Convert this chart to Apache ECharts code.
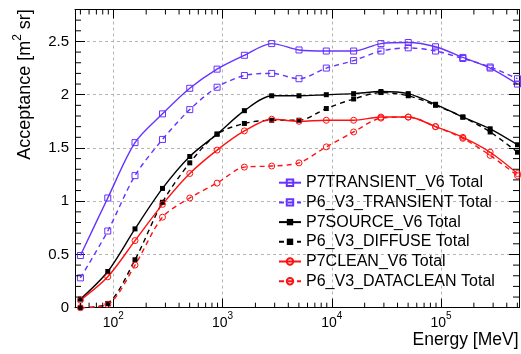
<!DOCTYPE html>
<html><head><meta charset="utf-8">
<script src="https://cdn.jsdelivr.net/npm/echarts@6/dist/echarts.min.js"></script>
<style>html,body{margin:0;padding:0;background:#fff}#c{width:521px;height:354px}</style>
</head><body><div id="c"></div>
<script>
// Energies in MeV (bin points)
const energies = [50, 89, 158, 282, 501, 891, 1585, 2818, 5012, 8913, 15849, 28184, 50119, 89125, 158489, 281838, 501187];
const p7Transient  = [0.49, 1.03, 1.55, 1.82, 2.06, 2.24, 2.37, 2.48, 2.42, 2.41, 2.41, 2.48, 2.49, 2.45, 2.35, 2.25, 2.10];
const p6Transient  = [0.28, 0.72, 1.24, 1.58, 1.86, 2.07, 2.18, 2.20, 2.15, 2.25, 2.32, 2.41, 2.44, 2.41, 2.34, 2.26, 2.15];
const p7Source     = [0.08, 0.34, 0.74, 1.12, 1.42, 1.63, 1.85, 1.99, 1.99, 2.00, 2.01, 2.03, 2.01, 1.91, 1.79, 1.68, 1.53];
const p6Diffuse    = [0.00, 0.04, 0.45, 0.99, 1.36, 1.63, 1.73, 1.76, 1.76, 1.87, 1.96, 2.02, 1.99, 1.90, 1.79, 1.65, 1.46];
const p7Clean      = [0.07, 0.29, 0.63, 0.97, 1.26, 1.48, 1.66, 1.77, 1.75, 1.76, 1.76, 1.79, 1.79, 1.70, 1.60, 1.46, 1.26];
const p6DataClean  = [0.00, 0.03, 0.40, 0.85, 1.03, 1.17, 1.32, 1.33, 1.36, 1.51, 1.65, 1.78, 1.79, 1.70, 1.59, 1.43, 1.24];
const seriesNames = ['P7TRANSIENT_V6 Total', 'P6_V3_TRANSIENT Total', 'P7SOURCE_V6 Total', 'P6_V3_DIFFUSE Total', 'P7CLEAN_V6 Total', 'P6_V3_DATACLEAN Total'];
const xTickExponents = [2, 3, 4, 5];
const yTickLabels = ['0', '0.5', '1', '1.5', '2', '2.5'];
const xTitle = 'Energy [MeV]';

const X_MIN = 44.6, X_MAX = 517600, Y_MIN = 0, Y_MAX = 2.8;
const BLUE = '#6633ff', RED = '#ff1111', BLACK = '#000000';
const FONT = 'Liberation Sans';

const xMinor = [];
for (let d = 1; d <= 5; d++) for (let m = 2; m <= 9; m++) { const v = m * Math.pow(10, d); if (v > X_MIN && v < X_MAX) xMinor.push(v); }
const yMinor = [];
for (let k = 1; k < 28; k++) { if (k % 5 !== 0) yMinor.push(k / 10); }

function mk(name, vals, color, dashed, symbol, size, filled) {
  return {
    name, type: 'line', data: energies.map((e, i) => [e, vals[i]]),
    smooth: 0.3, symbol, symbolSize: size, showSymbol: true,
    lineStyle: { color, width: 1.4, type: dashed ? [5, 4] : 'solid' },
    itemStyle: filled ? { color, borderColor: color, borderWidth: 0 } : { color: 'rgba(0,0,0,0)', borderColor: color, borderWidth: 1 },
    emphasis: { disabled: true }, z: 3
  };
}

const chart = echarts.init(document.getElementById('c'), null, { renderer: 'canvas' });
const axisLineStyle = { color: '#000', width: 1 };
const gridLine = { show: true, showMinLine: false, showMaxLine: false, lineStyle: { color: '#b4b4b4', type: [3, 3], width: 1 } };
chart.setOption({
  animation: false,
  backgroundColor: '#fff',
  grid: { left: 75, right: 2, top: 9.5, bottom: 46.3, containLabel: false, outerBoundsMode: 'none' },
  xAxis: [
    { type: 'log', logBase: 10, min: X_MIN, max: X_MAX, position: 'bottom',
      axisLine: { onZero: false, lineStyle: axisLineStyle },
      axisTick: { inside: true, length: 9, lineStyle: axisLineStyle },
      axisLabel: { margin: 4, color: '#000', fontFamily: FONT,
        formatter: v => { const l = Math.log10(v); const e = Math.round(l); if (Math.abs(l - e) > 1e-6 || xTickExponents.indexOf(e) < 0) return ''; return '{b|10}{s|' + e + '}'; },
        rich: { b: { fontSize: 14, fontFamily: FONT, color: '#000' }, s: { fontSize: 10, fontFamily: FONT, color: '#000', padding: [0, 0, 12, 0] } } },
      splitLine: gridLine },
    { type: 'log', logBase: 10, min: X_MIN, max: X_MAX, position: 'top',
      axisLine: { onZero: false, lineStyle: axisLineStyle },
      axisTick: { inside: true, length: 9, lineStyle: axisLineStyle },
      axisLabel: { show: false }, splitLine: { show: false } }
  ],
  yAxis: [
    { type: 'value', min: Y_MIN, max: Y_MAX, interval: 0.5, position: 'left',
      axisLine: { show: true, onZero: false, lineStyle: axisLineStyle },
      axisTick: { show: true, inside: true, length: 10, lineStyle: axisLineStyle },
      axisLabel: { margin: 6, color: '#000', fontSize: 15, fontFamily: FONT,
        formatter: v => { const k = Math.round(v / 0.5); if (Math.abs(v - k * 0.5) > 1e-6) return ''; return yTickLabels[k] || ''; } },
      splitLine: gridLine },
    { type: 'value', min: Y_MIN, max: Y_MAX, interval: 0.5, position: 'right',
      axisLine: { show: true, onZero: false, lineStyle: axisLineStyle },
      axisTick: { show: true, inside: true, length: 10, lineStyle: axisLineStyle },
      axisLabel: { show: false }, splitLine: { show: false } }
  ],
  legend: {
    data: seriesNames, orient: 'vertical', left: 278, top: 173.7, padding: 0,
    itemWidth: 22, itemHeight: 8, itemGap: 1.7,
    textStyle: { fontSize: 16, fontFamily: FONT, color: '#000', lineHeight: 18 },
    selectedMode: false
  },
  graphic: [
    { type: 'text', x: 25, y: 84.5, rotation: Math.PI / 2, silent: true,
      style: { text: '{a|Acceptance [m}{sup|2}{a| sr]}', align: 'center', verticalAlign: 'middle', fill: '#000',
        rich: { a: { fontSize: 18, fontFamily: FONT, fill: '#000' }, sup: { fontSize: 12, fontFamily: FONT, fill: '#000', padding: [0, 0, 14, 0] } } } },
    { type: 'text', x: 518.5, y: 340, silent: true,
      style: { text: xTitle, align: 'right', verticalAlign: 'middle', fontSize: 17.5, fontFamily: FONT, fill: '#000' } }
  ],
  series: [
    mk(seriesNames[0], p7Transient, BLUE, false, 'rect', 6, false),
    mk(seriesNames[1], p6Transient, BLUE, true, 'rect', 6, false),
    mk(seriesNames[2], p7Source, BLACK, false, 'rect', 5, true),
    mk(seriesNames[3], p6Diffuse, BLACK, true, 'rect', 5, true),
    mk(seriesNames[4], p7Clean, RED, false, 'circle', 6, false),
    mk(seriesNames[5], p6DataClean, RED, true, 'circle', 6, false),
    { type: 'custom', silent: true, data: xMinor.map(v => [v, 1]), clip: false, z: 4,
      renderItem: (params, api) => {
        const cs = params.coordSys; const x = api.coord([api.value(0), 1])[0];
        return { type: 'group', children: [
          { type: 'line', shape: { x1: x, y1: cs.y + cs.height, x2: x, y2: cs.y + cs.height - 5 }, style: { stroke: '#000', lineWidth: 1 } },
          { type: 'line', shape: { x1: x, y1: cs.y, x2: x, y2: cs.y + 5 }, style: { stroke: '#000', lineWidth: 1 } } ] };
      } },
    { type: 'custom', silent: true, data: yMinor.map(v => [X_MIN * 2, v]), clip: false, z: 4,
      renderItem: (params, api) => {
        const cs = params.coordSys; const y = api.coord([api.value(0), api.value(1)])[1];
        return { type: 'group', children: [
          { type: 'line', shape: { x1: cs.x, y1: y, x2: cs.x + 6, y2: y }, style: { stroke: '#000', lineWidth: 1 } },
          { type: 'line', shape: { x1: cs.x + cs.width, y1: y, x2: cs.x + cs.width - 6, y2: y }, style: { stroke: '#000', lineWidth: 1 } } ] };
      } }
  ]
});
</script></body></html>
